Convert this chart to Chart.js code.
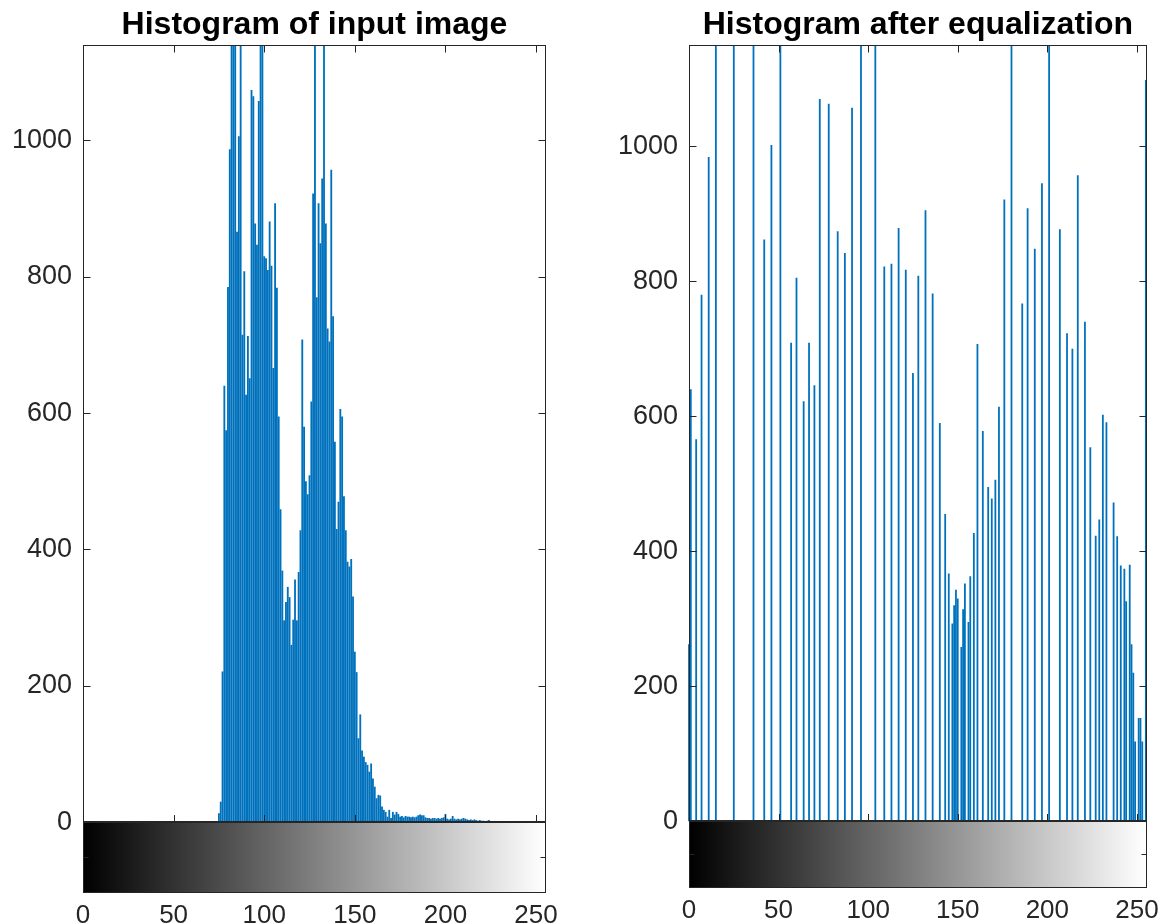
<!DOCTYPE html>
<html>
<head>
<meta charset="utf-8">
<title>imhist before / after equalization</title>
<script src="https://cdn.jsdelivr.net/npm/chart.js@4.4.1/dist/chart.umd.min.js"></script>
<style>
  html, body { margin: 0; padding: 0; background: #fff; }
  canvas { position: absolute; top: 0; }
</style>
</head>
<body>
<canvas id="histIn" width="583" height="924" style="left:0"></canvas>
<canvas id="histEq" width="583" height="924" style="left:583px"></canvas>
<script>
// ── data ─────────────────────────────────────────────────────────────────────
// input image: counts for gray levels 75..224 (everything else is 0)
const INPUT_FIRST_LEVEL = 75;
const INPUT_COUNTS = [
  13, 30, 221, 640, 575, 785, 987, 1180, 1290, 1210,
  866, 1006, 1175, 715, 808, 627, 713, 651, 1074, 1065,
  878, 847, 1058, 1160, 1230, 830, 827, 810, 881, 816,
  666, 908, 784, 595, 459, 369, 296, 323, 345, 330,
  260, 297, 356, 296, 367, 428, 708, 580, 500, 481,
  509, 617, 922, 1165, 770, 908, 849, 944, 1190, 878,
  724, 705, 957, 742, 558, 430, 470, 606, 595, 478,
  428, 382, 375, 386, 331, 250, 220, 123, 158, 105,
  96, 88, 84, 74, 86, 64, 52, 35, 40, 39,
  23, 18, 15, 8, 18, 6, 15, 11, 15, 12,
  8, 9, 7, 9, 8, 8, 7, 8, 7, 8,
  10, 11, 10, 10, 7, 6, 6, 5, 6, 6,
  5, 6, 5, 6, 7, 12, 5, 4, 5, 9,
  5, 4, 5, 4, 5, 6, 5, 4, 3, 4,
  3, 4, 3, 2, 3, 2, 2, 1, 2, 3,
];

// equalized image: only these gray levels are occupied
const EQ_LEVELS = [
  0, 1, 4, 7, 11, 15, 25, 36, 42, 46,
  51, 57, 60, 64, 67, 70, 73, 78, 83, 87,
  91, 96, 104, 109, 113, 117, 121, 125, 128, 132,
  136, 140, 143, 145, 147, 148, 149, 150, 152, 153,
  154, 156, 157, 159, 161, 164, 167, 169, 171, 173,
  176, 180, 186, 189, 193, 197, 201, 207, 211, 214,
  217, 221, 224, 227, 229, 231, 233, 237, 239, 241,
  243, 244, 246, 247, 248, 249, 251, 252, 253, 255,
];
const EQ_COUNTS = [
  262, 640, 566, 780, 984, 1235, 1310, 1190, 862, 1002,
  1270, 709, 805, 622, 709, 646, 1070, 1063, 874, 842,
  1057, 1205, 1340, 822, 826, 879, 817, 664, 808, 905,
  782, 590, 455, 367, 293, 320, 343, 330, 258, 314,
  352, 295, 363, 427, 707, 578, 495, 478, 506, 614,
  921, 1225, 767, 908, 848, 945, 1180, 877, 723, 700,
  957, 740, 554, 423, 447, 602, 591, 472, 422, 379,
  374, 326, 380, 262, 220, 118, 153, 153, 118, 1098,
];

const X_TICKS = [0, 50, 100, 150, 200, 250];
const Y_TICKS = [0, 200, 400, 600, 800, 1000];

// ── look ─────────────────────────────────────────────────────────────────────
const AXIS_COLOR = '#262626';
const STEM_COLOR = '#0072BD';
const FONT = '"Liberation Sans", Arial, Helvetica, sans-serif';
const TICK_LEN = 7;

// MATLAB-ish box: frame, inward ticks on all sides, gray colorbar strip below 0
const matlabAxes = {
  id: 'matlabAxes',
  beforeDatasetsDraw(chart) {
    const { ctx, chartArea: a, scales: { x, y } } = chart;
    const y0 = y.getPixelForValue(0);
    const grad = ctx.createLinearGradient(x.getPixelForValue(0), 0, x.getPixelForValue(255), 0);
    grad.addColorStop(0, '#000');
    grad.addColorStop(1, '#fff');
    ctx.save();
    ctx.fillStyle = grad;
    ctx.fillRect(a.left, y0, a.right - a.left, a.bottom - y0);
    ctx.restore();
  },
  afterDatasetsDraw(chart) {
    const { ctx, chartArea: a, scales: { x, y } } = chart;
    const L = Math.round(a.left) + 0.5;
    const R = Math.round(a.right) - 0.5;
    const T = Math.round(a.top) + 0.5;
    const B = Math.round(a.bottom) - 0.5;
    const Y0 = Math.round(y.getPixelForValue(0));
    const seg = (x1, y1, x2, y2) => { ctx.beginPath(); ctx.moveTo(x1, y1); ctx.lineTo(x2, y2); ctx.stroke(); };

    ctx.save();
    ctx.strokeStyle = AXIS_COLOR;
    ctx.lineWidth = 1;
    ctx.strokeRect(L, T, R - L, B - T);

    Y_TICKS.forEach((v) => {
      const py = Math.round(y.getPixelForValue(v)) + 0.5;
      seg(L, py, L + TICK_LEN, py);
      seg(R, py, R - TICK_LEN, py);
    });
    X_TICKS.forEach((v) => {
      const px = Math.round(x.getPixelForValue(v)) + 0.5;
      seg(px, Y0, px, Y0 - TICK_LEN);
      seg(px, T, px, T + TICK_LEN);
    });
    // colorbar middle ticks
    const mid = Math.round((Y0 + B) / 2) + 0.5;
    seg(L, mid, L + 5, mid);
    seg(R, mid, R - 5, mid);

    ctx.lineWidth = 2;
    seg(L - 0.5, Y0, R + 0.5, Y0);
    ctx.restore();
  },
};

function makeHistogram(canvasId, { title, points, yMax, yMin, yAxisWidth, xAxisHeight, padRight, stemWidth }) {
  return new Chart(document.getElementById(canvasId), {
    type: 'bar',
    data: {
      datasets: [{
        data: points,
        backgroundColor: STEM_COLOR,
        borderWidth: 0,
        barThickness: stemWidth,
        inflateAmount: 0,
        grouped: false,
        clip: { left: 2, right: 2, top: 0, bottom: 0 },
      }],
    },
    options: {
      responsive: false,
      animation: false,
      events: [],
      layout: { padding: { left: 0, right: padRight, top: 0, bottom: 0 } },
      plugins: {
        legend: { display: false },
        tooltip: { enabled: false },
        title: {
          display: true,
          text: title,
          fullSize: false,
          color: '#000',
          font: { family: FONT, size: 32, weight: 'bold', lineHeight: 1.2 },
          padding: { top: 6, bottom: 0.6 },
        },
      },
      scales: {
        x: {
          type: 'linear',
          offset: false,
          min: 0,
          max: 255.5,
          afterBuildTicks: (s) => { s.ticks = X_TICKS.map((v) => ({ value: v })); },
          afterFit: (s) => { s.height = xAxisHeight; },
          grid: { display: false, drawTicks: false, offset: false },
          border: { display: false },
          ticks: {
            color: AXIS_COLOR,
            font: { family: FONT, size: 26 },
            padding: 7,
            maxRotation: 0,
            autoSkip: false,
            callback: (v) => String(v),
          },
        },
        y: {
          min: yMin,
          max: yMax,
          afterBuildTicks: (s) => { s.ticks = Y_TICKS.map((v) => ({ value: v })); },
          afterFit: (s) => { s.width = yAxisWidth; },
          grid: { display: false, drawTicks: false },
          border: { display: false },
          ticks: {
            color: AXIS_COLOR,
            font: { family: FONT, size: 27 },
            padding: 11,
            callback: (v) => String(v),
          },
        },
      },
    },
    plugins: [matlabAxes],
  });
}

makeHistogram('histIn', {
  title: 'Histogram of input image',
  points: INPUT_COUNTS.map((c, i) => ({ x: INPUT_FIRST_LEVEL + i, y: c })),
  yMax: 1140,
  yMin: -104,
  yAxisWidth: 83,
  xAxisHeight: 31,
  padRight: 37,
  stemWidth: 1.85,
});

makeHistogram('histEq', {
  title: 'Histogram after equalization',
  points: EQ_LEVELS.map((lv, i) => ({ x: lv, y: EQ_COUNTS[i] })),
  yMax: 1150,
  yMin: -99,
  yAxisWidth: 106,
  xAxisHeight: 36,
  padRight: 18,
  stemWidth: 1.8,
});
</script>
</body>
</html>
